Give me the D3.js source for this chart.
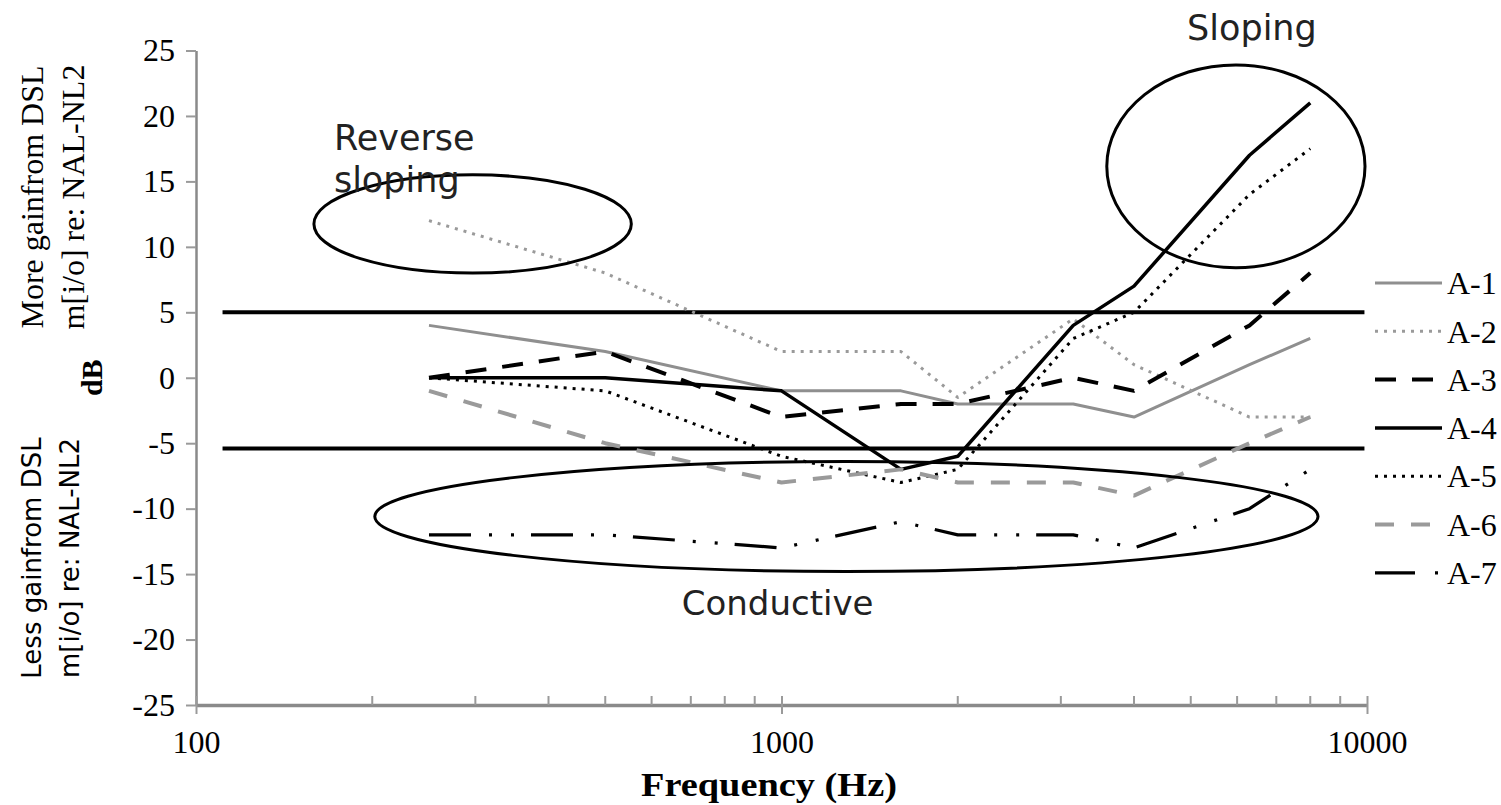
<!DOCTYPE html>
<html>
<head>
<meta charset="utf-8">
<script src="https://cdn.jsdelivr.net/npm/d3@7"></script>
<style>
  body { margin: 0; background: #fff; }
  svg { display: block; }
</style>
</head>
<body>
<svg id="chart" width="1501" height="805"></svg>
<script>
// Test frequencies (Hz)
const frequencies = [250, 500, 1000, 1600, 2000, 3150, 4000, 6300, 8000];

// Gain difference DSL m[i/o] minus NAL-NL2 (dB), one list per listener
const seriesNames = ["A-1", "A-2", "A-3", "A-4", "A-5", "A-6", "A-7"];
const gainA1 = [4, 2, -1, -1, -2, -2, -3, 1, 3];
const gainA2 = [12, 8, 2, 2, -1.5, 4.5, 1, -3, -3];
const gainA3 = [0, 2, -3, -2, -2, 0, -1, 4, 8];
const gainA4 = [0, 0, -1, -7, -6, 4, 7, 17, 21];
const gainA5 = [0, -1, -6, -8, -7, 3, 5, 14, 17.5];
const gainA6 = [-1, -5, -8, -7, -8, -8, -9, -5, -3];
const gainA7 = [-12, -12, -13, -11, -12, -12, -13, -10, -7];
const seriesValues = [gainA1, gainA2, gainA3, gainA4, gainA5, gainA6, gainA7];

// Axis ticks
const xTickValues = [100, 1000, 10000];
const yTickValues = [-25, -20, -15, -10, -5, 0, 5, 10, 15, 20, 25];

// +/- band limits (dB)
const bandLevels = [5, -5.4];

// Highlighted regions: frequency span (Hz) and level span (dB)
const regionNames = ["Reverse sloping", "Sloping", "Conductive"];
const regionFreqLow = [159, 3594, 202];
const regionFreqHigh = [554, 9922, 8248];
const regionDbLow = [8.0, 8.4, -14.8];
const regionDbHigh = [15.5, 23.9, -6.4];

// Line styles for each listener
const seriesColors = ["#8f8f8f", "#9a9a9a", "#000", "#000", "#000", "#9a9a9a", "#000"];
const seriesWidths = [3, 3, 4, 3.5, 3, 4, 3.2];
const seriesDashes = [null, "3,6", "21,16", null, "3,6", "19,17", "42,18,3,19,3,17"];
const legendDashes = [null, "3,6", "21,16", null, "3,6", "19,17", "40,20,3,100"];

const svg = d3.select("#chart");
const serif = "'Liberation Serif', 'Times New Roman', serif";
const sans = "'DejaVu Sans', Verdana, sans-serif";

const x = d3.scaleLog().domain([100, 10000]).range([196, 1367]);
const y = d3.scaleLinear().domain([-25, 25]).range([705, 50.5]);

// Y axis
const yAxis = svg.append("g")
  .attr("transform", `translate(${x(100)},0)`)
  .call(d3.axisLeft(y).tickValues(yTickValues).tickFormat(d => String(d))
    .tickSizeInner(10).tickSizeOuter(0).tickPadding(11));
yAxis.select(".domain").attr("stroke", "#8a8a8a").attr("stroke-width", 2.5);
yAxis.selectAll(".tick line").attr("stroke", "#9a9a9a").attr("stroke-width", 2);
yAxis.selectAll(".tick text")
  .attr("font-family", serif).attr("font-size", 32).attr("fill", "#000");

// X axis (log) with minor ticks
const minorTicks = [];
for (let dec = 100; dec < 10000; dec *= 10) {
  for (let m = 2; m <= 9; m++) minorTicks.push(dec * m);
}
const xAxis = svg.append("g")
  .attr("transform", `translate(0,${y(-25)})`)
  .call(d3.axisBottom(x).tickValues(xTickValues).tickFormat(d => String(d))
    .tickSizeInner(9).tickSizeOuter(0));
xAxis.select(".domain").attr("stroke", "#8a8a8a").attr("stroke-width", 3.5);
xAxis.selectAll(".tick line").attr("stroke", "#9a9a9a").attr("stroke-width", 2).attr("y1", -9);
xAxis.selectAll(".tick text")
  .attr("font-family", serif).attr("font-size", 32).attr("fill", "#000")
  .attr("y", 48).attr("dy", null);
xAxis.selectAll(".minor").data(minorTicks).enter().append("line")
  .attr("class", "minor")
  .attr("x1", d => x(d)).attr("x2", d => x(d))
  .attr("y1", 0).attr("y2", -9)
  .attr("stroke", "#9a9a9a").attr("stroke-width", 2);

// Axis titles
svg.append("text")
  .attr("x", 769).attr("y", 796)
  .attr("text-anchor", "middle")
  .attr("font-family", serif).attr("font-size", 33).attr("font-weight", "bold")
  .attr("textLength", 256).attr("lengthAdjust", "spacingAndGlyphs")
  .text("Frequency (Hz)");

svg.append("text")
  .attr("transform", `translate(102,${y(0)}) rotate(-90)`)
  .attr("text-anchor", "middle")
  .attr("font-family", serif).attr("font-size", 30).attr("font-weight", "bold")
  .text("dB");

const upperTitle = ["More gainfrom DSL", "m[i/o] re: NAL-NL2"];
upperTitle.forEach((t, i) => {
  svg.append("text")
    .attr("transform", `translate(${43 + i * 41},197) rotate(-90)`)
    .attr("text-anchor", "middle")
    .attr("font-family", serif).attr("font-size", 32)
    .text(t);
});
const lowerTitle = ["Less gainfrom DSL", "m[i/o] re: NAL-NL2"];
lowerTitle.forEach((t, i) => {
  svg.append("text")
    .attr("transform", `translate(${41 + i * 38},558) rotate(-90)`)
    .attr("text-anchor", "middle")
    .attr("font-family", sans).attr("font-size", 26)
    .text(t);
});

// Band limit lines
svg.selectAll(".band").data(bandLevels).enter().append("line")
  .attr("class", "band")
  .attr("x1", x(111)).attr("x2", x(9900))
  .attr("y1", d => y(d)).attr("y2", d => y(d))
  .attr("stroke", "#000").attr("stroke-width", 4);

// Listener lines
const line = d3.line()
  .x((d, i) => x(frequencies[i]))
  .y(d => y(d));

seriesValues.forEach((vals, i) => {
  svg.append("path")
    .datum(vals)
    .attr("d", line)
    .attr("fill", "none")
    .attr("stroke", seriesColors[i])
    .attr("stroke-width", seriesWidths[i])
    .attr("stroke-dasharray", seriesDashes[i])
    .attr("stroke-linejoin", "round");
});

// Region ellipses
regionNames.forEach((name, i) => {
  const x0 = x(regionFreqLow[i]), x1 = x(regionFreqHigh[i]);
  const y0 = y(regionDbHigh[i]), y1 = y(regionDbLow[i]);
  svg.append("ellipse")
    .attr("cx", (x0 + x1) / 2).attr("cy", (y0 + y1) / 2)
    .attr("rx", (x1 - x0) / 2).attr("ry", (y1 - y0) / 2)
    .attr("fill", "none").attr("stroke", "#000").attr("stroke-width", 3);
});

// Region labels
svg.append("text")
  .attr("x", x(172)).attr("y", y(17.4))
  .attr("font-family", sans).attr("font-size", 35).attr("fill", "#222")
  .selectAll("tspan").data(["Reverse", "sloping"]).enter().append("tspan")
  .attr("x", x(172)).attr("dy", (d, i) => i === 0 ? 0 : 42)
  .text(d => d);
svg.append("text")
  .attr("x", x(6360)).attr("y", y(25.8))
  .attr("text-anchor", "middle")
  .attr("font-family", sans).attr("font-size", 35).attr("fill", "#222")
  .text("Sloping");
svg.append("text")
  .attr("x", x(985)).attr("y", y(-18.1))
  .attr("text-anchor", "middle")
  .attr("font-family", sans).attr("font-size", 34).attr("fill", "#222")
  .text("Conductive");

// Legend
const legend = svg.append("g").attr("transform", "translate(1375,283)");
seriesNames.forEach((name, i) => {
  const g = legend.append("g").attr("transform", `translate(0,${i * 48.3})`);
  g.append("line")
    .attr("x1", 0).attr("x2", 67).attr("y1", 0).attr("y2", 0)
    .attr("stroke", seriesColors[i])
    .attr("stroke-width", seriesWidths[i])
    .attr("stroke-dasharray", legendDashes[i]);
  g.append("text")
    .attr("x", 72).attr("y", 0).attr("dy", "0.35em")
    .attr("font-family", serif).attr("font-size", 32)
    .text(name);
});
</script>
</body>
</html>
